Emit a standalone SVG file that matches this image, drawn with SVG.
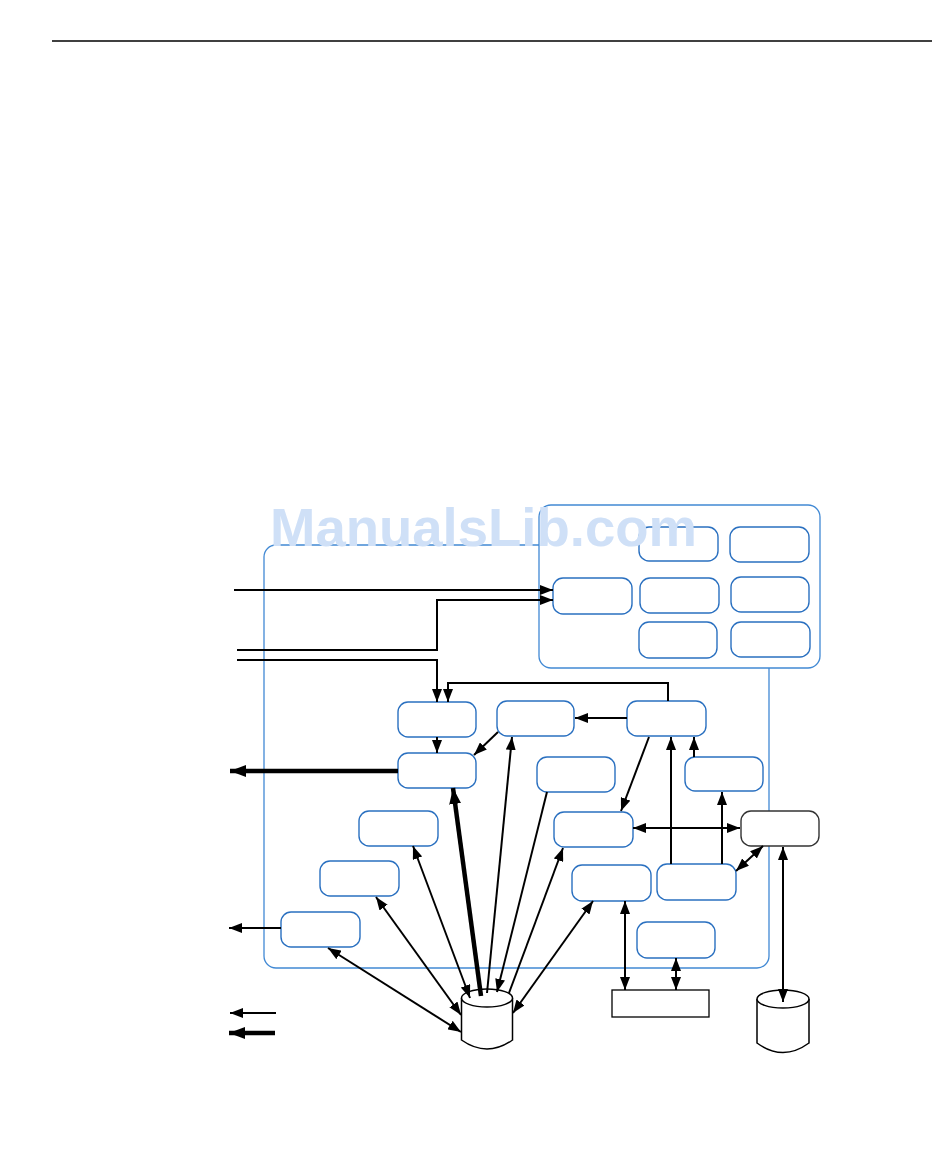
<svg xmlns="http://www.w3.org/2000/svg" width="950" height="1163" viewBox="0 0 950 1163">
<style>
.cont{fill:#fff;stroke:#4189d4;stroke-width:1.3}
.box{fill:#fff;stroke:#2a70c0;stroke-width:1.4}
.blk{fill:#fff;stroke:#333;stroke-width:1.4}
.cyl{fill:#fff;stroke:#000;stroke-width:1.5}
.ln{fill:none;stroke:#000;stroke-width:2}
.thk{fill:none;stroke:#000;stroke-width:4.5}
.wm{font-family:"Liberation Sans",Arial,sans-serif;font-weight:bold;font-size:54.5px;fill:#cfe0f7}
</style>
<defs>
<marker id="a" viewBox="0 0 13 10" refX="13" refY="5" markerWidth="13" markerHeight="10" markerUnits="userSpaceOnUse" orient="auto-start-reverse">
<path d="M0,0 L13,5 L0,10 z" fill="#000"/>
</marker>
<marker id="t" viewBox="0 0 16 12" refX="16" refY="6" markerWidth="16" markerHeight="12" markerUnits="userSpaceOnUse" orient="auto-start-reverse">
<path d="M0,0 L16,6 L0,12 z" fill="#000"/>
</marker>
</defs>
<line x1="52" y1="41" x2="932" y2="41" stroke="#000" stroke-width="1.6"/>
<g id="outer-container"><rect class="cont" x="264" y="545" width="505" height="423" rx="12"/></g>
<g id="top-container"><rect class="cont" x="539" y="505" width="281" height="163" rx="12"/></g>
<g id="boxA"><rect class="box" x="639" y="527" width="79" height="34" rx="10"/></g>
<g id="boxB"><rect class="box" x="730" y="527" width="79" height="35" rx="10"/></g>
<g id="boxC"><rect class="box" x="553" y="578" width="79" height="36" rx="10"/></g>
<g id="boxD"><rect class="box" x="640" y="578" width="79" height="35" rx="10"/></g>
<g id="boxE"><rect class="box" x="731" y="577" width="78" height="35" rx="10"/></g>
<g id="boxF"><rect class="box" x="639" y="622" width="78" height="36" rx="10"/></g>
<g id="boxG"><rect class="box" x="731" y="622" width="79" height="35" rx="10"/></g>
<g id="boxH"><rect class="box" x="398" y="702" width="78" height="35" rx="10"/></g>
<g id="boxI"><rect class="box" x="398" y="753" width="78" height="35" rx="10"/></g>
<g id="boxJ"><rect class="box" x="497" y="701" width="77" height="35" rx="10"/></g>
<g id="boxK"><rect class="box" x="627" y="701" width="79" height="35" rx="10"/></g>
<g id="boxL"><rect class="box" x="537" y="757" width="78" height="35" rx="10"/></g>
<g id="boxM"><rect class="box" x="685" y="757" width="78" height="34" rx="10"/></g>
<g id="boxN"><rect class="box" x="554" y="812" width="79" height="35" rx="10"/></g>
<g id="boxO"><rect class="blk" x="741" y="811" width="78" height="35" rx="10"/></g>
<g id="boxP"><rect class="box" x="359" y="811" width="79" height="35" rx="10"/></g>
<g id="boxQ"><rect class="box" x="320" y="861" width="79" height="35" rx="10"/></g>
<g id="boxR"><rect class="box" x="281" y="912" width="79" height="35" rx="10"/></g>
<g id="boxS"><rect class="box" x="572" y="865" width="79" height="36" rx="10"/></g>
<g id="boxT"><rect class="box" x="657" y="864" width="79" height="36" rx="10"/></g>
<g id="boxU"><rect class="box" x="637" y="922" width="78" height="36" rx="10"/></g>
<g id="rectV"><rect x="612" y="990" width="97" height="27" fill="#fff" stroke="#000" stroke-width="1.3"/></g>
<g id="cyl1">
<path class="cyl" d="M461.5,998 V1040 Q487,1058 512.5,1040 V998"/>
<ellipse class="cyl" cx="487" cy="998" rx="25.5" ry="9"/>
</g>
<g id="cyl2">
<path class="cyl" d="M757,999 V1043 Q783,1062 809,1043 V999"/>
<ellipse class="cyl" cx="783" cy="999" rx="26" ry="9"/>
</g>
<g id="connectors">
<path class="ln" d="M234,590 H553" marker-end="url(#a)"/>
<path class="ln" d="M237,650 H437 V600 H553" marker-end="url(#a)"/>
<path class="ln" d="M237,660 H437 V702" marker-end="url(#a)"/>
<path class="ln" d="M668,701 V683 H448 V702" marker-end="url(#a)"/>
<path class="ln" d="M437,737 V753" marker-end="url(#a)"/>
<path class="ln" d="M498,732 L474,755" marker-end="url(#a)"/>
<path class="ln" d="M627,718 L575,718" marker-end="url(#a)"/>
<path class="ln" d="M649,737 L621,811" marker-end="url(#a)"/>
<path class="ln" d="M671,864 V737" marker-end="url(#a)"/>
<path class="ln" d="M694,757 V737" marker-end="url(#a)"/>
<path class="ln" d="M722,864 V792" marker-end="url(#a)"/>
<path class="ln" d="M633,828 H740" marker-start="url(#a)" marker-end="url(#a)"/>
<path class="ln" d="M736,871 L763,846" marker-start="url(#a)" marker-end="url(#a)"/>
<path class="ln" d="M783,847 V1002" marker-start="url(#a)" marker-end="url(#a)"/>
<path class="ln" d="M625,901 V990" marker-start="url(#a)" marker-end="url(#a)"/>
<path class="ln" d="M676,958 V990" marker-start="url(#a)" marker-end="url(#a)"/>
<path class="thk" d="M398,771 H230" marker-end="url(#t)"/>
<path class="ln" d="M281,928 H229" marker-end="url(#a)"/>
<path class="ln" d="M276,1013 H230" marker-end="url(#a)"/>
<path class="thk" d="M275,1033 H229" marker-end="url(#t)"/>
<path class="ln" d="M328,948 L461,1032" marker-start="url(#a)" marker-end="url(#a)"/>
<path class="ln" d="M376,897 L461,1015" marker-start="url(#a)" marker-end="url(#a)"/>
<path class="ln" d="M413,846 L470,998" marker-start="url(#a)" marker-end="url(#a)"/>
<path class="thk" d="M481,996 L453,788" marker-end="url(#t)"/>
<path class="ln" d="M487,993 L512,737" marker-end="url(#a)"/>
<path class="ln" d="M547,792 L497,992" marker-end="url(#a)"/>
<path class="ln" d="M509,993 L563,848" marker-end="url(#a)"/>
<path class="ln" d="M593,901 L513,1013" marker-start="url(#a)" marker-end="url(#a)"/>
</g>
<text class="wm" x="270" y="546">ManualsLib.com</text>
</svg>
